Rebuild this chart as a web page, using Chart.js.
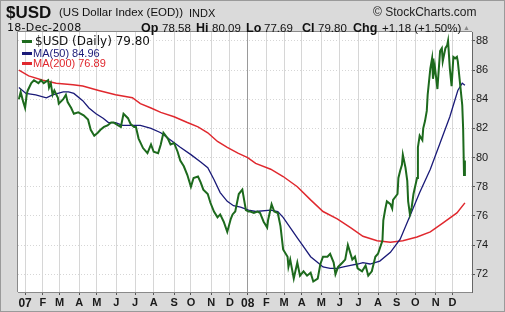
<!DOCTYPE html>
<html>
<head>
<meta charset="utf-8">
<script src="https://cdn.jsdelivr.net/npm/chart.js@4.4.1/dist/chart.umd.min.js"></script>
<style>
  body { margin: 0; background: #fff; }
  #wrap { position: relative; width: 505px; height: 312px; overflow: hidden;
          background: #dadada; box-sizing: border-box; border: 1px solid #9a9a9a; }
  #c { position: absolute; left: -1px; top: -1px; }
  .t { position: absolute; white-space: nowrap; line-height: 1; font-family: "Liberation Sans", Arial, sans-serif; color: #111; }
  .b { font-weight: bold; font-size: 12.5px; top: 21px; }
  .v { font-size: 11.5px; top: 22px; }
  .dash { position: absolute; height: 3px; width: 10px; }
</style>
</head>
<body>
<div id="wrap">
  <canvas id="c" width="505" height="312"></canvas>
  <div class="t" style="left:5px;top:3px;font-size:17px;font-weight:bold;">$USD</div>
  <div class="t" style="left:58px;top:6px;font-size:11.5px;">(US Dollar Index (EOD))</div>
  <div class="t" style="left:188px;top:7px;font-size:11px;">INDX</div>
  <div class="t" style="left:372px;top:5px;font-size:12px;color:#222;">&copy; StockCharts.com</div>
  <div class="t" style="left:6px;top:21px;font-size:11px;font-family:'DejaVu Sans';letter-spacing:0.3px;">18-Dec-2008</div>
  <div class="t b" style="left:140px;">Op</div><div class="t v" style="left:161px;">78.58</div>
  <div class="t b" style="left:195px;">Hi</div><div class="t v" style="left:211px;">80.09</div>
  <div class="t b" style="left:245px;">Lo</div><div class="t v" style="left:263px;">77.69</div>
  <div class="t b" style="left:301px;">Cl</div><div class="t v" style="left:317px;">79.80</div>
  <div class="t b" style="left:352px;">Chg</div><div class="t v" style="left:381px;">+1.18 (+1.50%)</div>
  <div class="t" style="left:462px;top:23px;font-size:7px;color:#888;">&#9650;</div>
  <div class="dash" style="left:21px;top:39px;background:#1d6a1d;"></div>
  <div class="t" style="left:34px;top:34px;font-size:12px;font-family:'DejaVu Sans';">$USD (Daily) 79.80</div>
  <div class="dash" style="left:21px;top:51px;background:#1a1a78;"></div>
  <div class="t" style="left:32px;top:47px;font-size:11px;color:#1a1a78;">MA(50) 84.96</div>
  <div class="dash" style="left:21px;top:61px;background:#e0282e;"></div>
  <div class="t" style="left:32px;top:57px;font-size:11px;color:#e0282e;">MA(200) 76.89</div>
</div>
<script>
// x = trading day index, 0 = 19-Dec-2006, 504 = 18-Dec-2008
const monthDays = [8, 28, 47, 69, 89, 111, 132, 153, 176, 195, 218, 239,
                   259, 280, 300, 320, 342, 363, 384, 406, 427, 448, 471, 490];
const monthLabels = ['07', 'F', 'M', 'A', 'M', 'J', 'J', 'A', 'S', 'O', 'N', 'D',
                     '08', 'F', 'M', 'A', 'M', 'J', 'J', 'A', 'S', 'O', 'N', 'D'];
const priceTicks = [72, 74, 76, 78, 80, 82, 84, 86, 88];

const usdDays = [1, 3, 6, 8, 10, 11, 15, 18, 23, 26, 29, 34, 35, 37, 39, 41, 45, 46, 51, 54,
  56, 60, 63, 68, 71, 74, 79, 82, 86, 90, 93, 97, 101, 105, 108, 113, 116, 119, 124, 127,
  131, 133, 136, 141, 146, 150, 153, 158, 161, 164, 169, 172, 176, 180, 183, 187, 191, 195, 198, 203,
  206, 209, 214, 217, 221, 225, 228, 232, 236, 240, 242, 245, 249, 253, 257, 260, 262, 266, 270, 273,
  277, 281, 282, 286, 289, 293, 296, 299, 304, 305, 307, 311, 315, 318, 322, 326, 330, 333, 338, 341,
  344, 349, 352, 356, 358, 361, 366, 369, 372, 377, 380, 383, 388, 392, 395, 399, 403, 406, 411, 412,
  414, 416, 420, 422, 423, 428, 429, 431, 433, 434, 437, 439, 440, 442, 444, 446, 450, 451, 453, 456,
  457, 459, 461, 462, 465, 467, 468, 470, 473, 474, 476, 478, 479, 482, 484, 485, 487, 489, 491, 493,
  495, 496, 498, 501, 502, 503, 504];
const usdClose = [84.0, 84.5, 83.8, 83.4, 84.4, 84.6, 85.1, 85.3, 85.1, 85.3, 85.1, 85.3, 84.8, 85.1, 84.3, 84.6, 84.1, 83.7, 84.0, 84.3,
  83.8, 83.4, 83.0, 83.1, 83.0, 82.9, 82.6, 81.9, 81.5, 81.7, 81.9, 82.1, 82.2, 82.4, 82.4, 82.2, 82.1, 83.0, 82.7, 82.3,
  82.1, 82.1, 81.3, 80.65, 80.3, 80.9, 80.4, 80.3, 80.9, 81.7, 81.3, 80.9, 81.0, 80.4, 79.8, 79.4, 78.8, 78.0, 78.6, 78.7,
  78.3, 77.8, 77.5, 76.9, 76.3, 75.9, 76.1, 75.6, 74.9, 75.8, 76.1, 76.3, 77.5, 77.8, 76.4, 76.3, 76.3, 76.2, 76.3, 76.2,
  75.6, 75.2, 75.7, 76.8, 76.3, 76.2, 75.3, 73.7, 73.2, 72.5, 73.0, 71.7, 72.8, 71.9, 72.2, 71.9, 72.1, 71.5, 71.7, 72.7,
  73.2, 73.2, 73.4, 72.8, 72.0, 72.5, 72.8, 73.0, 74.0, 73.0, 73.2, 72.4, 72.2, 72.6, 71.9, 72.2, 73.2, 73.4, 74.3, 75.7,
  76.4, 77.0, 76.8, 76.5, 77.1, 77.5, 78.6, 79.1, 79.5, 80.2, 79.3, 78.4, 77.0, 76.1, 76.6, 77.5, 78.6, 80.7, 81.5, 81.2,
  82.0, 82.5, 83.2, 84.3, 86.1, 86.8, 85.4, 86.3, 84.7, 85.6, 87.3, 87.5, 86.6, 87.5, 87.7, 88.0, 86.1, 84.9, 86.9, 86.8,
  86.9, 86.6, 85.4, 83.6, 82.0, 78.8, 79.8];

const ma50Days = [1, 9, 20, 32, 39, 51, 57, 63, 73, 80, 88, 96, 102, 110, 118, 129, 138, 150, 161, 172,
  183, 195, 206, 214, 221, 228, 236, 243, 251, 260, 268, 285, 293, 299, 307, 315, 322, 330, 338, 344,
  352, 360, 367, 375, 383, 389, 397, 408, 420, 431, 442, 453, 465, 476, 487, 496, 501, 504];
const ma50 = [84.8, 84.4, 84.3, 84.1, 84.3, 84.5, 84.5, 84.4, 83.9, 83.4, 83.0, 82.7, 82.4, 82.4, 82.2, 82.2, 82.2, 82.0, 81.7, 81.2,
  80.7, 80.2, 79.7, 79.3, 78.5, 77.6, 77.0, 76.7, 76.6, 76.4, 76.3, 76.4, 76.3, 75.9, 75.2, 74.5, 73.9, 73.2, 72.8, 72.5,
  72.4, 72.4, 72.5, 72.6, 72.7, 72.8, 72.7, 72.9, 73.5, 74.4, 76.0, 77.6, 79.2, 81.0, 82.8, 84.6, 85.1, 84.96];

const ma200Days = [1, 12, 28, 43, 62, 73, 91, 110, 129, 138, 150, 161, 176, 191, 203, 214, 225, 236, 248, 259,
  268, 285, 299, 315, 330, 344, 360, 375, 389, 405, 420, 434, 450, 465, 479, 495, 504];
const ma200 = [86.0, 85.6, 85.3, 85.1, 85.0, 84.9, 84.6, 84.3, 84.1, 83.7, 83.4, 83.1, 82.8, 82.4, 82.1, 81.7, 81.1, 80.7, 80.3, 80.0,
  79.6, 79.2, 78.7, 78.0, 77.1, 76.3, 75.8, 75.2, 74.6, 74.3, 74.2, 74.3, 74.55, 74.9, 75.5, 76.2, 76.89];

const pts = (xs, ys) => xs.map((x, i) => ({ x: x, y: ys[i] }));

// white plot background + left/top frame
const plotFrame = {
  id: 'plotFrame',
  beforeDraw(chart) {
    const { ctx, chartArea: a } = chart;
    ctx.save();
    ctx.fillStyle = '#ffffff';
    ctx.fillRect(a.left, a.top, a.right - a.left, a.bottom - a.top);
    ctx.strokeStyle = '#8a8a8a';
    ctx.lineWidth = 1;
    ctx.beginPath();
    ctx.moveTo(a.left - 0.5, a.bottom);
    ctx.lineTo(a.left - 0.5, a.top - 0.5);
    ctx.lineTo(a.right, a.top - 0.5);
    ctx.stroke();
    ctx.restore();
  }
};

new Chart(document.getElementById('c'), {
  type: 'line',
  data: {
    datasets: [
      { label: '$USD (Daily)', data: pts(usdDays, usdClose), borderColor: '#1d6a1d', borderWidth: 2, order: 1 },
      { label: 'MA(50)', data: pts(ma50Days, ma50), borderColor: '#1a1a78', borderWidth: 1.3, order: 2 },
      { label: 'MA(200)', data: pts(ma200Days, ma200), borderColor: '#e0282e', borderWidth: 1.5, order: 3 }
    ]
  },
  options: {
    responsive: false,
    animation: false,
    devicePixelRatio: 1,
    layout: { padding: { top: 32, left: 18, right: 0, bottom: 0 } },
    elements: { point: { radius: 0 }, line: { tension: 0 } },
    plugins: { legend: { display: false }, tooltip: { enabled: false } },
    scales: {
      x: {
        type: 'linear',
        min: 0,
        max: 512,
        afterBuildTicks: axis => { axis.ticks = monthDays.map(v => ({ value: v })); },
        afterFit: axis => { axis.height = 20; },
        ticks: {
          autoSkip: false,
          maxRotation: 0,
          padding: 1,
          color: '#1a1a1a',
          font: c => ({ family: 'Liberation Sans', size: monthLabels[c.index] && monthLabels[c.index].length === 2 ? 12 : 11, weight: 'bold' }),
          callback: (v, i) => monthLabels[i]
        },
        grid: {
          color: c => (c.tick && (c.tick.value === 259) ? '#9a9a9a' : '#d6d6d6'),
          tickColor: '#555',
          tickLength: 3
        },
        border: { color: '#8a8a8a' }
      },
      y: {
        position: 'right',
        min: 70.78,
        max: 88.61,
        afterBuildTicks: axis => { axis.ticks = priceTicks.map(v => ({ value: v })); },
        afterFit: axis => { axis.width = 33; },
        ticks: {
          padding: 1,
          color: '#1a1a1a',
          font: { family: 'Liberation Sans', size: 11 }
        },
        grid: { color: '#d6d6d6', tickColor: '#555', tickLength: 3 },
        border: { color: '#666', dash: [1, 2] }
      }
    }
  },
  plugins: [plotFrame]
});
</script>
</body>
</html>
